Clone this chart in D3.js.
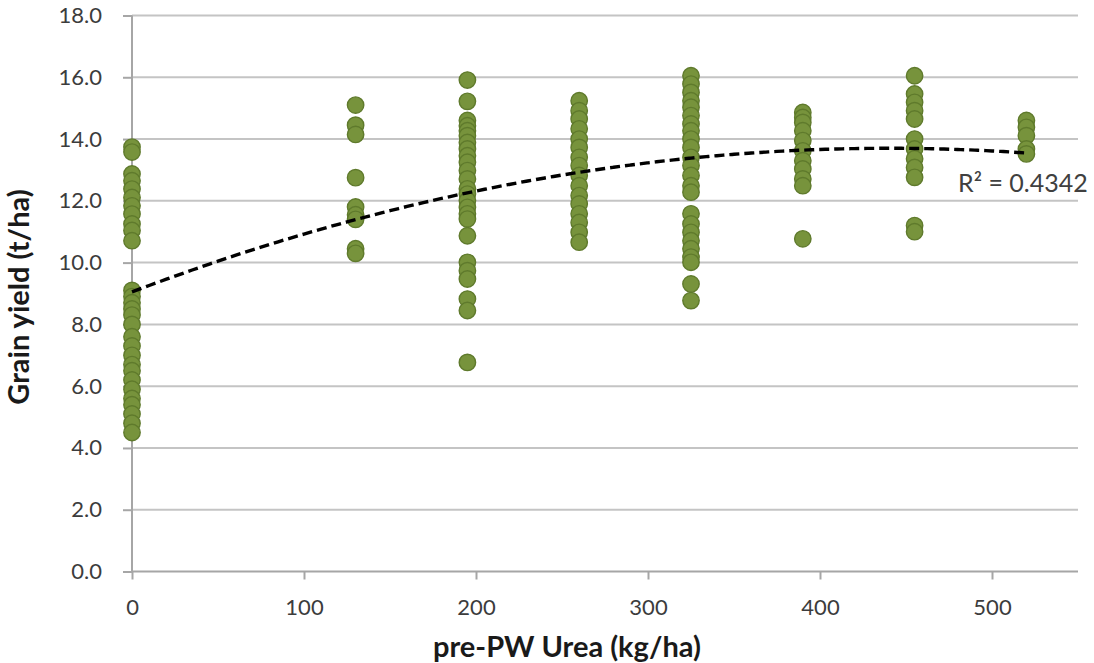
<!DOCTYPE html>
<html>
<head>
<meta charset="utf-8">
<script src="https://cdn.jsdelivr.net/npm/d3@7"></script>
<style>
  html, body { margin: 0; padding: 0; background: #fff; }
  svg { display: block; }
</style>
</head>
<body>
<svg id="chart" width="1094" height="663"></svg>
<script>
// ---- Data ----
const doses = [0, 130, 195, 260, 325, 390, 455, 520];   // pre-PW urea (kg/ha)

const yieldDose0 = [13.74, 13.58, 12.87, 12.65, 12.38, 12.11, 11.84, 11.57, 11.25, 11.04, 10.71,
                    9.1, 8.9, 8.7, 8.5, 8.3, 8.0, 7.6, 7.3, 7.0, 6.7, 6.5, 6.2, 5.9, 5.6, 5.4, 5.1, 4.8, 4.5];
const yieldDose130 = [15.1, 14.45, 14.15, 12.75, 11.8, 11.55, 11.4, 10.45, 10.3];
const yieldDose195 = [15.91, 15.22, 14.6, 14.43, 14.27, 14.11, 13.89, 13.68, 13.46, 13.25, 12.98, 12.71,
                      12.39, 12.22, 12.01, 11.79, 11.58, 11.41, 10.87, 10.01, 9.74, 9.47, 8.82, 8.45, 6.77];
const yieldDose260 = [15.24, 14.92, 14.65, 14.33, 14.0, 13.73, 13.41, 13.14, 12.82, 12.49, 12.17,
                      11.9, 11.58, 11.3, 10.98, 10.66];
const yieldDose325 = [16.05, 15.78, 15.51, 15.24, 15.03, 14.76, 14.49, 14.27, 14.0, 13.73, 13.41, 13.14,
                      12.82, 12.49, 12.28, 11.58, 11.25, 10.98, 10.71, 10.45, 10.18, 10.01, 9.31, 8.77];
const yieldDose390 = [14.86, 14.7, 14.54, 14.27, 13.95, 13.62, 13.3, 13.03, 12.71, 12.49, 10.77];
const yieldDose455 = [16.05, 15.46, 15.19, 14.92, 14.65, 14.0, 13.68, 13.36, 13.08, 12.76, 11.2, 11.0];
const yieldDose520 = [14.6, 14.38, 14.11, 13.68, 13.52];

const yieldSeries = [yieldDose0, yieldDose130, yieldDose195, yieldDose260,
                     yieldDose325, yieldDose390, yieldDose455, yieldDose520];

// Polynomial (order 2) trendline coefficients: a + b*x + c*x^2
const trendCoef = [9.05, 0.02114, -0.00002402];
const trendLabel = "R\u00B2 = 0.4342";

const xTicks = [0, 100, 200, 300, 400, 500];
const yTicks = [0, 2, 4, 6, 8, 10, 12, 14, 16, 18];
const xTitle = "pre-PW Urea (kg/ha)";
const yTitle = "Grain yield (t/ha)";

// ---- Build points table ----
const points = [];
doses.forEach((d, i) => yieldSeries[i].forEach(v => points.push({ x: d, y: v })));

// ---- Drawing ----
const svg = d3.select("#chart");
const x = d3.scaleLinear().domain([0, 550]).range([132, 1078]);
const y = d3.scaleLinear().domain([0, 18]).range([571.5, 15.5]);

const FONT = "Lato, 'Open Sans', sans-serif";

// gridlines
svg.append("g")
  .selectAll("line")
  .data(yTicks.filter(t => t > 0))
  .join("line")
  .attr("x1", x(0)).attr("x2", x(550))
  .attr("y1", d => y(d)).attr("y2", d => y(d))
  .attr("stroke", "#c4c4c4").attr("stroke-width", 2);

// y axis
const yAxis = svg.append("g")
  .attr("transform", `translate(${x(0)},0)`)
  .call(d3.axisLeft(y).tickValues(yTicks).tickFormat(d3.format(".1f")).tickSize(9).tickPadding(21));
yAxis.select(".domain").attr("stroke", "#a6a6a6").attr("stroke-width", 2)
  .attr("d", `M0,${y(18)}V${y(0)}`);
yAxis.selectAll(".tick line").attr("stroke", "#a6a6a6").attr("stroke-width", 2);
yAxis.selectAll(".tick text").attr("font-family", FONT).attr("font-size", 22).attr("fill", "#3c3c3c");

// x axis
const xAxis = svg.append("g")
  .attr("transform", `translate(0,${y(0)})`)
  .call(d3.axisBottom(x).tickValues(xTicks).tickFormat(d3.format("d")).tickSize(8).tickPadding(20));
xAxis.select(".domain").attr("stroke", "#a6a6a6").attr("stroke-width", 2)
  .attr("d", `M${x(0)},0H${x(550)}`);
xAxis.selectAll(".tick line").attr("stroke", "#a6a6a6").attr("stroke-width", 2);
xAxis.selectAll(".tick text").attr("font-family", FONT).attr("font-size", 22).attr("fill", "#3c3c3c");

// points
svg.append("g")
  .selectAll("circle")
  .data(points)
  .join("circle")
  .attr("cx", d => x(d.x))
  .attr("cy", d => y(d.y))
  .attr("r", 8.2)
  .attr("fill", "#77933c")
  .attr("stroke", "#5f7a2c")
  .attr("stroke-width", 1.4);

// trendline
const trendX = d3.range(0, 520.01, 5);
const trendLine = d3.line()
  .x(d => x(d))
  .y(d => y(trendCoef[0] + trendCoef[1] * d + trendCoef[2] * d * d))
  .curve(d3.curveMonotoneX);
svg.append("path")
  .datum(trendX)
  .attr("d", trendLine)
  .attr("fill", "none")
  .attr("stroke", "#000")
  .attr("stroke-width", 3.4)
  .attr("stroke-dasharray", "10,5");

// R² label
svg.append("text")
  .attr("x", 958).attr("y", 192)
  .attr("font-family", FONT).attr("font-size", 25).attr("fill", "#404040")
  .text(trendLabel);

// axis titles
svg.append("text")
  .attr("x", 567).attr("y", 657)
  .attr("text-anchor", "middle")
  .attr("font-family", FONT).attr("font-weight", "bold").attr("font-size", 29).attr("fill", "#1a1a1a")
  .text(xTitle);

svg.append("text")
  .attr("transform", "translate(29,297) rotate(-90)")
  .attr("text-anchor", "middle")
  .attr("font-family", FONT).attr("font-weight", "bold").attr("font-size", 29).attr("fill", "#1a1a1a")
  .text(yTitle);
</script>
</body>
</html>
